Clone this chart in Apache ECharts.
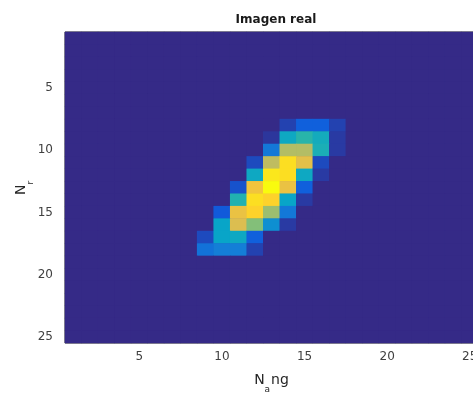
<!DOCTYPE html>
<html>
<head>
<meta charset="utf-8">
<script src="https://cdn.jsdelivr.net/npm/echarts@6/dist/echarts.min.js"></script>
<style>
  html, body { margin: 0; padding: 0; background: #fff; }
  #main { width: 473px; height: 393px; }
</style>
</head>
<body>
<div id="main"></div>
<script>
// grid is 25 x 25, index 1..25 on both axes
const xCats = ['1','2','3','4','5','6','7','8','9','10','11','12','13','14','15','16','17','18','19','20','21','22','23','24','25'];
const yCats = ['1','2','3','4','5','6','7','8','9','10','11','12','13','14','15','16','17','18','19','20','21','22','23','24','25'];
const tickShown = ['5', '10', '15', '20', '25'];

// non-zero part of the image: rows 8..18, columns 9..17
const blobFirstRow = 8;
const blobFirstCol = 9;
const blob = [
  [0,    0,    0,    0,    0,    0.06, 0.14, 0.14, 0.06],
  [0,    0,    0,    0,    0.03, 0.40, 0.48, 0.42, 0.04],
  [0,    0,    0,    0,    0.22, 0.70, 0.70, 0.44, 0.04],
  [0,    0,    0,    0.08, 0.72, 0.93, 0.80, 0.08, 0   ],
  [0,    0,    0,    0.40, 0.95, 0.93, 0.40, 0.04, 0   ],
  [0,    0,    0.10, 0.84, 1.00, 0.82, 0.14, 0,    0   ],
  [0,    0,    0.46, 0.93, 0.90, 0.38, 0.04, 0,    0   ],
  [0,    0.12, 0.82, 0.90, 0.66, 0.22, 0,    0,    0   ],
  [0,    0.38, 0.78, 0.62, 0.30, 0.04, 0,    0,    0   ],
  [0.08, 0.38, 0.40, 0.14, 0,    0,    0,    0,    0   ],
  [0.20, 0.24, 0.24, 0.06, 0,    0,    0,    0,    0   ]
];

const parula = ['#352a87', '#0f5cdd', '#1481d6', '#06a4ca', '#2eb7a4', '#87bf77', '#d1bb59', '#fec832', '#f9fb0e'];

let data = [];
for (let r = 0; r < yCats.length; r++) {
  for (let c = 0; c < xCats.length; c++) {
    let v = 0;
    let br = r + 1 - blobFirstRow;
    let bc = c + 1 - blobFirstCol;
    if (br >= 0 && br < blob.length && bc >= 0 && bc < blob[br].length) {
      v = blob[br][bc];
    }
    data.push([c, r, v]);
  }
}

const chart = echarts.init(document.getElementById('main'));
const labelFont = 'DejaVu Sans';

// N with a low subscript, used for both axis names
// both tokens padded to the same box height so the subscript sits under the baseline
const nameRich = {
  n: { fontFamily: labelFont, fontSize: 14, color: '#262626', lineHeight: 15, padding: [0, 0, 6, 0] },
  s: { fontFamily: labelFont, fontSize: 9, color: '#262626', lineHeight: 9, padding: [12, 1, 0, 0] }
};

const option = {
  animation: false,
  title: {
    text: 'Imagen real',
    left: 271,
    top: 9,
    textAlign: 'center',
    textStyle: { fontFamily: labelFont, fontSize: 12, fontWeight: 'bold', color: '#1a1a1a' }
  },
  grid: {
    left: 65, top: 32, right: -5, bottom: 50,
    outerBoundsMode: 'none',
    containLabel: false,
    show: true, borderColor: '#262626', borderWidth: 1,
    backgroundColor: '#352a87'
  },
  xAxis: {
    type: 'category',
    data: xCats,
    splitArea: { show: false },
    splitLine: { show: false },
    axisLine: { show: false },
    axisTick: { show: false },
    axisLabel: {
      interval: function (i, v) { return tickShown.indexOf(v) >= 0; },
      margin: 8,
      fontFamily: labelFont, fontSize: 12, color: '#404040'
    },
    name: '{n|N}{s|a}{n|ng}',
    nameLocation: 'middle',
    nameGap: 33,
    nameMoveOverlap: false,
    nameTextStyle: { rich: nameRich }
  },
  yAxis: {
    type: 'category',
    data: yCats,
    inverse: true,
    splitArea: { show: false },
    splitLine: { show: false },
    axisLine: { show: false },
    axisTick: { show: false },
    axisLabel: {
      interval: function (i, v) { return tickShown.indexOf(v) >= 0; },
      margin: 12,
      fontFamily: labelFont, fontSize: 12, color: '#404040'
    },
    name: '{n|N}{s|r}',
    nameLocation: 'middle',
    nameGap: 33,
    nameRotate: 90,
    nameMoveOverlap: false,
    nameTextStyle: { rich: nameRich }
  },
  visualMap: {
    show: false,
    type: 'continuous',
    min: 0,
    max: 1,
    dimension: 2,
    inRange: { color: parula }
  },
  series: [{
    type: 'heatmap',
    data: data,
    itemStyle: { borderWidth: 0 },
    emphasis: { disabled: true }
  }]
};
chart.setOption(option);
</script>
</body>
</html>
